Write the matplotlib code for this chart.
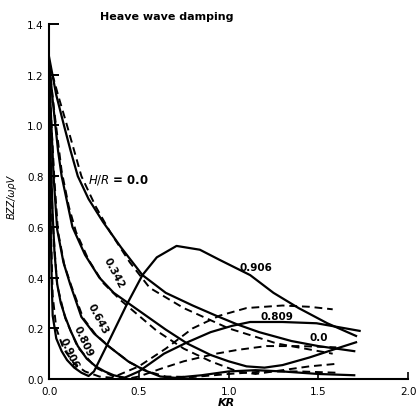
import matplotlib
matplotlib.use("Agg")
import matplotlib.pyplot as plt

# H/R = 0.0
kr_00 = [0, 0.04, 0.083, 0.12, 0.16, 0.22, 0.3, 0.4, 0.52, 0.65, 0.8, 0.93, 1.05, 1.17, 1.35, 1.5, 1.7]
bzz_00 = [1.27, 1.12, 1.0, 0.9, 0.8, 0.71, 0.62, 0.52, 0.41, 0.34, 0.29, 0.25, 0.215, 0.185, 0.15, 0.13, 0.11]
kr_00d = [0, 0.05, 0.1, 0.18, 0.26, 0.34, 0.45, 0.56, 0.75, 1.0, 1.27, 1.58]
bzz_00d = [1.25, 1.12, 1.0, 0.8, 0.68, 0.58, 0.46, 0.36, 0.28, 0.2, 0.14, 0.1]

# H/R = 0.342
kr_342 = [0, 0.02, 0.05, 0.07, 0.1, 0.13, 0.2, 0.28, 0.36, 0.45, 0.55, 0.65, 0.77, 0.9, 1.0, 1.1, 1.2, 1.3, 1.45, 1.6, 1.71]
bzz_342 = [1.25, 1.1, 0.9, 0.8, 0.7, 0.6, 0.49, 0.4, 0.34, 0.295, 0.245, 0.195, 0.14, 0.095, 0.07, 0.05, 0.045, 0.055, 0.085, 0.12, 0.145]
kr_342d = [0, 0.03, 0.07, 0.11, 0.15, 0.22, 0.3, 0.4, 0.5, 0.6, 0.75, 0.9, 1.05, 1.15, 1.3, 1.45, 1.6]
bzz_342d = [1.24, 1.05, 0.82, 0.68, 0.58, 0.47, 0.38, 0.31, 0.25, 0.19, 0.12, 0.07, 0.03, 0.02, 0.035, 0.05, 0.06]

# H/R = 0.643
kr_643 = [0, 0.01, 0.025, 0.045, 0.08, 0.117, 0.18, 0.25, 0.33, 0.44, 0.53, 0.62, 0.7, 0.85, 1.0, 1.15, 1.3, 1.5, 1.7]
bzz_643 = [1.22, 1.05, 0.8, 0.59, 0.46, 0.375, 0.245, 0.18, 0.13, 0.07, 0.035, 0.01, 0.005, 0.015, 0.03, 0.035, 0.03, 0.02, 0.015]
kr_643d = [0, 0.012, 0.03, 0.05, 0.085, 0.125, 0.19, 0.26, 0.34, 0.45, 0.55, 0.65, 0.8, 1.0, 1.2, 1.4, 1.6]
bzz_643d = [1.22, 1.02, 0.78, 0.58, 0.45, 0.365, 0.24, 0.175, 0.125, 0.065, 0.03, 0.01, 0.008, 0.02, 0.03, 0.03, 0.025]

# H/R = 0.809
kr_809 = [0, 0.005, 0.01, 0.02, 0.03, 0.045, 0.065, 0.09, 0.12, 0.16, 0.21, 0.26, 0.31, 0.36, 0.42,
          0.5, 0.64, 0.77, 0.9, 1.02, 1.12, 1.3, 1.49, 1.73]
bzz_809 = [1.2, 1.0, 0.85, 0.65, 0.5, 0.375, 0.3, 0.245, 0.19, 0.13, 0.08, 0.05, 0.03, 0.015, 0.005,
           0.03, 0.1, 0.145, 0.185, 0.21, 0.225, 0.225, 0.22, 0.19]
kr_809d = [0, 0.008, 0.02, 0.045, 0.09, 0.16, 0.26, 0.36, 0.45, 0.5, 0.62, 0.75, 0.93, 1.05, 1.21, 1.4, 1.6]
bzz_809d = [1.2, 0.9, 0.62, 0.37, 0.24, 0.125, 0.045, 0.01, 0.003, 0.01, 0.04, 0.07, 0.1, 0.115, 0.13, 0.13, 0.125]

# H/R = 0.906
kr_906 = [0, 0.003, 0.006, 0.01, 0.015, 0.02, 0.04, 0.07, 0.1, 0.14, 0.18, 0.22, 0.25, 0.32, 0.43,
          0.52, 0.6, 0.71, 0.84, 0.95, 1.12, 1.25, 1.39, 1.55, 1.71]
bzz_906 = [1.2, 0.95, 0.75, 0.55, 0.375, 0.25, 0.16, 0.11, 0.075, 0.045, 0.025, 0.012, 0.03, 0.13, 0.29,
           0.41, 0.48, 0.525, 0.51, 0.47, 0.41, 0.34, 0.28, 0.22, 0.17]
kr_906d = [0, 0.005, 0.01, 0.02, 0.04, 0.08, 0.14, 0.2, 0.28, 0.35, 0.5, 0.65, 0.8, 0.95, 1.1, 1.3, 1.45, 1.58]
bzz_906d = [1.2, 0.9, 0.6, 0.33, 0.2, 0.12, 0.06, 0.03, 0.01, 0.005, 0.05, 0.12, 0.2, 0.25, 0.28, 0.29, 0.285, 0.275]

x_ticks = [0.0, 0.5, 1.0, 1.5, 2.0]
y_ticks = [0.0, 0.2, 0.4, 0.6, 0.8, 1.0, 1.2, 1.4]

fig = plt.figure(figsize=(4.16, 4.14), dpi=100)
ax = fig.add_axes([0.118, 0.082, 0.863, 0.8575])

solid = [(kr_00, bzz_00), (kr_342, bzz_342), (kr_643, bzz_643), (kr_809, bzz_809), (kr_906, bzz_906)]
dashed = [(kr_00d, bzz_00d), (kr_342d, bzz_342d), (kr_643d, bzz_643d), (kr_809d, bzz_809d), (kr_906d, bzz_906d)]
for x, y in solid:
    ax.plot(x, y, color="black", lw=1.6, solid_joinstyle="round")
for x, y in dashed:
    ax.plot(x, y, color="black", lw=1.4, linestyle=(0, (4, 2.5)))

ax.set_xlim(0, 2.0)
ax.set_ylim(0, 1.4)
ax.spines["top"].set_visible(False)
ax.spines["right"].set_visible(False)
ax.spines["left"].set_linewidth(1.5)
ax.spines["bottom"].set_linewidth(1.5)
ax.set_xticks(x_ticks)
ax.set_xticklabels([f"{v:.1f}" for v in x_ticks])
ax.set_yticks(y_ticks)
ax.set_yticklabels([f"{v:.1f}" for v in y_ticks])
ax.tick_params(axis="y", direction="in", length=7, width=1.4, labelsize=7.5, pad=4)
ax.tick_params(axis="x", direction="in", length=5, width=1.2, labelsize=7.5, pad=5)
ax.patch.set_visible(False)

# curve labels
lab = dict(fontsize=7.5, fontweight="bold", color="black")
ax.text(0.217, 0.79, "$H/R$ = 0.0", va="center", ha="left", fontsize=8.5, fontweight="bold")
ax.text(0.36, 0.42, "0.342", rotation=-62, ha="center", va="center", **lab)
ax.text(0.27, 0.24, "0.643", rotation=-62, ha="center", va="center", **lab)
ax.text(0.19, 0.15, "0.809", rotation=-65, ha="center", va="center", **lab)
ax.text(0.11, 0.105, "0.906", rotation=-65, ha="center", va="center", **lab)
ax.text(1.06, 0.44, "0.906", ha="left", va="center", **lab)
ax.text(1.18, 0.25, "0.809", ha="left", va="center", **lab)
ax.text(1.45, 0.166, "0.0", ha="left", va="center", **lab)

fig.text(100 / 416, 1 - 17 / 414, "Heave wave damping", fontsize=8, fontweight="bold", va="center", ha="left")
fig.text(12 / 416, 1 - 197 / 414, "BZZ/ωρV", rotation=90, fontsize=7, fontstyle="italic", va="center", ha="center")
fig.text(226 / 416, 1 - 403 / 414, "KR", fontsize=8, fontstyle="italic", fontweight="bold", va="center", ha="center")

fig.savefig("out.png", dpi=100)
